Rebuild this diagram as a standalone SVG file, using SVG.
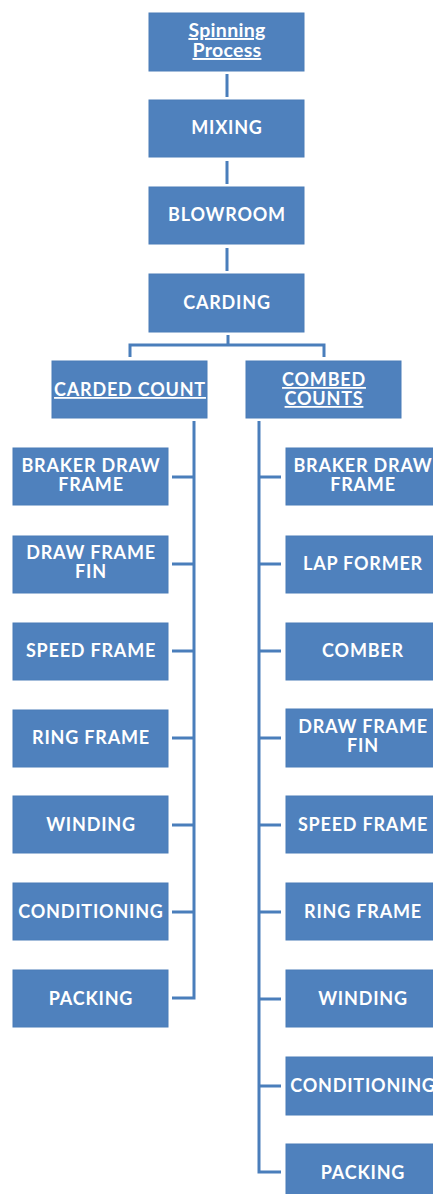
<svg xmlns="http://www.w3.org/2000/svg" width="433" height="1194" viewBox="0 0 433 1194">
<style>
.box{fill:#4F81BD;stroke:#4A7CB8;stroke-width:1}
.t{font-family:Lato,"Open Sans","Liberation Sans",sans-serif;font-weight:bold;font-size:18px;fill:#fff;text-anchor:middle;letter-spacing:0.8px}
.s{font-size:19.5px;letter-spacing:0.3px}
.u{text-decoration:underline}
.c{fill:none;stroke:#4A7EBB;stroke-width:3}
</style>
<rect width="433" height="1194" fill="#fff"/>
<g id="connectors">
<path class="c" d="M227 74V97M227 161V184M227 248V271"/>
<path class="c" d="M228 335V345M130 357V345H324V357"/>
<path class="c" d="M194 421V998H172M172 477H194M172 564H194M172 651H194M172 738H194M172 825H194M172 912H194"/>
<path class="c" d="M259 421V1172H281M259 477H281M259 564H281M259 651H281M259 738H281M259 825H281M259 912H281M259 999H281M259 1086H281"/>
</g>
<g id="spinning"><rect class="box" x="149" y="13" width="155" height="58"/><text class="t s u" x="227" y="37">Spinning</text><text class="t s u" x="227" y="57">Process</text></g>
<g id="mixing"><rect class="box" x="149" y="100" width="155" height="57"/><text class="t" x="227" y="134">MIXING</text></g>
<g id="blowroom"><rect class="box" x="149" y="187" width="155" height="57"/><text class="t" x="227" y="221">BLOWROOM</text></g>
<g id="carding"><rect class="box" x="149" y="274" width="155" height="58"/><text class="t" x="227" y="309">CARDING</text></g>
<g id="carded"><rect class="box" x="52" y="361" width="155" height="57"/><text class="t u" x="130" y="396">CARDED COUNT</text></g>
<g id="combed"><rect class="box" x="246" y="361" width="155" height="57"/><text class="t u" x="324" y="386">COMBED</text><text class="t u" x="324" y="405">COUNTS</text></g>
<g id="l1"><rect class="box" x="13" y="448" width="155" height="57"/><text class="t" x="91" y="472">BRAKER DRAW</text><text class="t" x="91" y="491">FRAME</text></g>
<g id="l2"><rect class="box" x="13" y="536" width="155" height="57"/><text class="t" x="91" y="559">DRAW FRAME</text><text class="t" x="91" y="578">FIN</text></g>
<g id="l3"><rect class="box" x="13" y="623" width="155" height="57"/><text class="t" x="91" y="657">SPEED FRAME</text></g>
<g id="l4"><rect class="box" x="13" y="710" width="155" height="57"/><text class="t" x="91" y="744">RING FRAME</text></g>
<g id="l5"><rect class="box" x="13" y="796" width="155" height="57"/><text class="t" x="91" y="831">WINDING</text></g>
<g id="l6"><rect class="box" x="13" y="883" width="155" height="57"/><text class="t" x="91" y="918">CONDITIONING</text></g>
<g id="l7"><rect class="box" x="13" y="970" width="155" height="57"/><text class="t" x="91" y="1005">PACKING</text></g>
<g id="r1"><rect class="box" x="286" y="448" width="155" height="57"/><text class="t" x="363" y="472">BRAKER DRAW</text><text class="t" x="363" y="491">FRAME</text></g>
<g id="r2"><rect class="box" x="286" y="536" width="155" height="57"/><text class="t" x="363" y="570">LAP FORMER</text></g>
<g id="r3"><rect class="box" x="286" y="623" width="155" height="57"/><text class="t" x="363" y="657">COMBER</text></g>
<g id="r4"><rect class="box" x="286" y="709" width="155" height="58"/><text class="t" x="363" y="733">DRAW FRAME</text><text class="t" x="363" y="752">FIN</text></g>
<g id="r5"><rect class="box" x="286" y="796" width="155" height="57"/><text class="t" x="363" y="831">SPEED FRAME</text></g>
<g id="r6"><rect class="box" x="286" y="883" width="155" height="57"/><text class="t" x="363" y="918">RING FRAME</text></g>
<g id="r7"><rect class="box" x="286" y="970" width="155" height="57"/><text class="t" x="363" y="1005">WINDING</text></g>
<g id="r8"><rect class="box" x="286" y="1057" width="155" height="58"/><text class="t" x="363" y="1092">CONDITIONING</text></g>
<g id="r9"><rect class="box" x="286" y="1144" width="155" height="57"/><text class="t" x="363" y="1179">PACKING</text></g>
</svg>
